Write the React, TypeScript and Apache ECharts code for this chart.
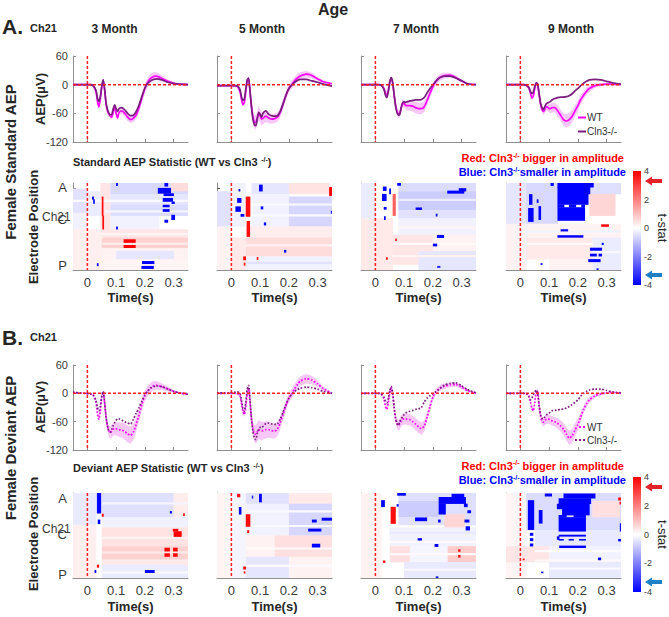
import { useEffect, useRef } from 'react';
import * as echarts from 'echarts';

// ---------- time base of the averaged channel-21 traces (s) ----------
const T = [-0.05, -0.01, 0.01, 0.02, 0.03, 0.035, 0.04, 0.045, 0.05, 0.055, 0.06, 0.065, 0.07, 0.075, 0.08, 0.085, 0.09, 0.095, 0.1, 0.105, 0.11, 0.12, 0.13, 0.14, 0.15, 0.16, 0.17, 0.18, 0.19, 0.2, 0.21, 0.22, 0.23, 0.24, 0.26, 0.28, 0.3, 0.32, 0.35];
const T_MIN = -0.05;
const T_MAX = 0.35;
const TIME_TICKS = [0, 0.1, 0.2, 0.3];
const MONTHS = ['3 Month', '5 Month', '7 Month', '9 Month'];

// ---------- Standard AEP, Ch21 (µV) ----------
const STD_WT_3M = [0, 0, 0, -2, -15, -35, -47, -30, -5, 10, -10, -40, -55, -62, -66, -68, -58, -45, -60, -70, -58, -55, -60, -68, -73, -70, -63, -47, -27, -8, 5, 13, 17, 18, 13, 7, 3, 1, 0];
const STD_KO_3M = [0, 0, 0, -2, -12, -28, -35, -25, -3, 10, -10, -38, -52, -60, -63, -62, -50, -42, -50, -56, -50, -48, -53, -60, -65, -64, -56, -42, -24, -7, 3, 8, 11, 12, 10, 5, 2, 1, 0];
const STD_BAND_3M = [1, 1, 1, 1, 2, 3, 3, 3, 3, 3, 3, 4, 4, 5, 5, 5, 5, 5, 6, 6, 6, 6, 7, 8, 8, 8, 9, 10, 10, 10, 10, 10, 9, 8, 6, 4, 3, 2, 2];

const STD_WT_5M = [-2, -2, -2, -3, -15, -30, -42, -38, -15, 8, 12, -15, -45, -68, -78, -79, -70, -60, -65, -72, -70, -66, -70, -72, -71, -68, -58, -40, -22, -8, 0, 8, 14, 18, 22, 19, 12, 6, 2];
const STD_KO_5M = [-2, -2, -2, -2, -10, -25, -33, -30, -10, 10, 14, -15, -48, -72, -84, -86, -72, -58, -62, -68, -60, -55, -62, -65, -66, -65, -56, -40, -22, -8, -1, 5, 9, 11, 11, 8, 5, 1, -3];
const STD_BAND_5M = [1, 1, 1, 2, 3, 4, 5, 5, 5, 5, 6, 8, 10, 12, 14, 15, 15, 15, 14, 14, 13, 12, 11, 10, 10, 10, 10, 10, 9, 8, 8, 8, 8, 8, 7, 6, 4, 3, 2];

const STD_WT_7M = [0, 0, 0, -1, -8, -18, -22, -12, 5, 14, 5, -20, -42, -56, -62, -60, -48, -38, -40, -43, -44, -44, -45, -48, -50, -50, -46, -33, -18, -4, 6, 13, 17, 19, 20, 15, 8, 2, 0];
const STD_KO_7M = [0, 0, 0, -1, -10, -22, -27, -15, 5, 15, 5, -20, -44, -58, -64, -62, -48, -38, -36, -37, -36, -34, -33, -32, -32, -31, -27, -17, -8, 0, 7, 13, 16, 18, 18, 14, 8, 2, 0];
const STD_BAND_7M = [1, 1, 1, 1, 2, 3, 4, 4, 4, 4, 4, 5, 6, 7, 8, 8, 8, 8, 8, 9, 10, 10, 11, 12, 12, 12, 11, 10, 9, 8, 7, 7, 7, 6, 5, 4, 3, 2, 1];

const STD_WT_9M = [0, 0, 0, -1, -8, -18, -28, -24, -8, 3, 0, -20, -40, -52, -56, -52, -46, -47, -50, -50, -48, -48, -55, -64, -73, -76, -73, -66, -55, -44, -31, -22, -14, -8, -2, 0, 1, 1, 0];
const STD_KO_9M = [0, 0, 0, -1, -6, -14, -19, -15, -4, 4, 2, -18, -38, -48, -52, -46, -40, -38, -37, -35, -32, -29, -27, -26, -26, -25, -23, -19, -13, -8, -2, 3, 7, 10, 11, 10, 7, 4, 1];
const STD_BAND_9M = [1, 1, 1, 1, 2, 3, 4, 4, 4, 4, 4, 5, 6, 7, 8, 8, 8, 8, 9, 10, 10, 10, 11, 12, 13, 14, 14, 13, 12, 11, 10, 9, 8, 7, 5, 3, 2, 2, 1];

// ---------- Deviant AEP, Ch21 (µV) ----------
const DEV_WT_3M = [2, 0, -1, -3, -20, -42, -55, -38, -8, 3, -20, -50, -70, -80, -83, -80, -76, -74, -75, -76, -77, -78, -81, -86, -89, -82, -65, -45, -22, -5, 5, 12, 16, 17, 14, 9, 4, 1, -2];
const DEV_KO_3M = [2, 0, -1, -3, -15, -30, -37, -28, -5, 4, -20, -50, -70, -80, -82, -76, -68, -62, -57, -54, -54, -57, -60, -63, -65, -55, -42, -30, -16, -3, 5, 11, 14, 16, 14, 9, 4, 1, -2];
const DEV_BAND_3M = [1, 1, 1, 1, 2, 4, 5, 5, 5, 5, 6, 8, 10, 12, 13, 14, 14, 14, 14, 15, 15, 16, 17, 18, 18, 17, 16, 14, 13, 12, 11, 10, 10, 9, 7, 5, 3, 2, 2];

const DEV_WT_5M = [0, 0, 0, 0, -5, -20, -38, -45, -30, 0, 10, -20, -55, -75, -85, -87, -82, -77, -78, -80, -79, -77, -77, -79, -80, -76, -62, -44, -25, -10, -1, 10, 19, 26, 31, 28, 20, 10, 0];
const DEV_KO_5M = [1, 1, 2, 3, 0, -15, -32, -38, -20, 8, 17, -15, -55, -80, -95, -98, -85, -76, -72, -73, -70, -64, -63, -65, -66, -65, -55, -40, -24, -10, -2, 4, 8, 11, 13, 12, 9, 4, 0];
const DEV_BAND_5M = [1, 1, 1, 2, 3, 4, 5, 6, 6, 6, 7, 9, 12, 15, 18, 20, 20, 20, 20, 20, 19, 18, 17, 16, 16, 15, 14, 12, 11, 10, 10, 10, 10, 10, 10, 9, 7, 4, 2];

const DEV_WT_7M = [0, 0, 0, -1, -12, -28, -34, -20, 0, 12, 0, -30, -52, -64, -68, -64, -58, -55, -54, -54, -55, -56, -60, -65, -71, -75, -69, -50, -28, -8, 3, 9, 13, 15, 18, 19, 13, 6, 0];
const DEV_KO_7M = [0, 0, 0, -1, -8, -16, -20, -10, 5, 14, 2, -28, -52, -64, -68, -60, -53, -50, -45, -42, -40, -38, -36, -34, -33, -30, -18, -10, -5, -1, 3, 8, 13, 17, 21, 22, 16, 8, 1];
const DEV_BAND_7M = [1, 1, 1, 1, 2, 4, 5, 5, 5, 5, 5, 6, 8, 10, 11, 12, 12, 12, 12, 12, 12, 12, 12, 13, 13, 13, 12, 10, 8, 7, 6, 6, 6, 6, 5, 5, 4, 3, 2];

const DEV_WT_9M = [0, 0, 0, 0, -5, -18, -32, -37, -20, 2, 5, -25, -48, -58, -61, -58, -55, -54, -55, -57, -58, -60, -64, -69, -76, -86, -95, -90, -78, -66, -50, -34, -22, -14, -5, -1, 1, 2, 0];
const DEV_KO_9M = [0, 0, 0, 0, -8, -14, -10, -3, 2, 7, 0, -25, -45, -53, -54, -50, -46, -44, -42, -39, -37, -36, -35, -34, -33, -31, -28, -24, -19, -14, -6, 0, 4, 7, 9, 9, 6, 3, 1];
const DEV_BAND_9M = [1, 1, 1, 1, 2, 4, 5, 6, 6, 6, 6, 7, 8, 9, 10, 10, 10, 10, 10, 10, 10, 10, 11, 12, 13, 14, 15, 15, 14, 12, 10, 8, 7, 6, 4, 3, 2, 2, 1];

// ---------- electrode x time t-stat maps: [t0, t1, row0, row1, t] ----------
// rows run 0 (anterior) .. 32 (posterior); faint washes first, significant clusters after
const STD_MAP_3M = [
  [-0.05, 0.0, 2, 11, -0.45], [-0.05, 0.0, 11, 17, -0.2], [-0.05, 0.05, 17, 32, 0.25], [0.0, 0.045, 3, 12, -0.3],
  [0.045, 0.08, 0, 17, 0.4], [0.08, 0.35, 0, 4, -0.6], [0.08, 0.35, 4, 8, -0.4], [0.08, 0.35, 8, 12, -0.55],
  [0.08, 0.25, 12, 17, -0.2], [0.05, 0.35, 17, 20, 0.4], [0.05, 0.35, 20, 24, 0.7], [0.05, 0.35, 24, 28, 0.2],
  [0.1, 0.3, 25, 28, -0.4], [0.05, 0.35, 28, 32, 0.15], [0.29, 0.35, 0, 3, 0.55],
  [-0.05, 0.35, 6.2, 6.9, -0.1], [0.06, 0.35, 10, 10.7, -0.15], [0.05, 0.35, 21.9, 22.7, 0.35], [0.05, 0.35, 18.4, 19.1, 0.15],
  [0.05, 0.055, 5, 12, 3.8], [0.052, 0.057, 12, 17, 3.8], [0.016, 0.022, 5, 6, -3.8], [0.02, 0.025, 6, 7.5, -3.8],
  [0.1, 0.105, 0, 1, -4], [0.1, 0.105, 16, 17, -4], [0.033, 0.038, 29.5, 30.5, -4],
  [0.126, 0.167, 20.7, 21.9, 4], [0.126, 0.167, 22.8, 23.8, 4],
  [0.19, 0.232, 28.7, 29.7, -4], [0.188, 0.23, 30.5, 31.5, -4],
  [0.245, 0.29, 1.8, 3.8, -4], [0.265, 0.3, 3.8, 4.7, -4], [0.262, 0.297, 5.5, 6.8, -4], [0.293, 0.303, 6.8, 7.6, -4],
  [0.262, 0.285, 8, 8.8, -4], [0.262, 0.285, 9.6, 10.5, -4], [0.268, 0.28, 13.5, 14.5, -4], [0.292, 0.304, 11.7, 13.5, -4],
  [0.268, 0.28, 0, 1.2, -4],
];
const STD_MAP_5M = [
  [-0.05, 0.0, 3, 16, -0.45], [-0.05, 0.0, 16, 32, 0.2], [0.0, 0.05, 0, 16, -0.2], [0.07, 0.2, 0, 4, -0.4],
  [0.2, 0.34, 0, 4, 0.45], [0.07, 0.2, 4, 16, -0.2], [0.2, 0.35, 5, 16, -0.65], [0.05, 0.35, 16, 20, 0.3],
  [0.05, 0.35, 20, 27, 0.55], [0.05, 0.35, 27, 32, -0.2], [0.0, 0.05, 20, 32, 0.35],
  [0.07, 0.35, 7.5, 8.2, -0.1], [0.07, 0.35, 11.5, 12.2, -0.1], [0.05, 0.35, 22.5, 23.2, 0.2], [0.05, 0.35, 29, 29.7, -0.45],
  [0.02, 0.034, 5.5, 7.2, -4], [0.014, 0.032, 8.6, 10.5, -4], [0.032, 0.044, 11.4, 12.3, -4], [0.025, 0.03, 2.2, 3, -4],
  [0.096, 0.108, 0.6, 3, -4], [0.102, 0.11, 8.6, 9.6, -4], [0.05, 0.065, 5, 12.3, 3.8], [0.053, 0.064, 14, 19.7, 3.8],
  [0.041, 0.05, 27, 28.3, 3.8], [0.088, 0.093, 27.2, 28.2, 3.5], [0.043, 0.048, 29.3, 30.3, 3.5],
  [0.113, 0.12, 14.5, 15.5, -4], [0.183, 0.19, 24.6, 25.5, -4], [0.34, 0.35, 1.5, 4.7, 4], [0.346, 0.35, 10.2, 11.2, -3.5],
];
const STD_MAP_7M = [
  [-0.05, 0.0, 0, 13, -0.3], [-0.05, 0.0, 13, 32, 0.35], [0.0, 0.06, 13, 32, 0.35], [0.08, 0.35, 0, 3, -0.55],
  [0.08, 0.35, 3, 10, -0.8], [0.08, 0.35, 10, 13, -0.45], [0.08, 0.35, 13, 19, -0.2], [0.06, 0.2, 19, 30, 0.4],
  [0.2, 0.35, 19, 25, 0.2], [0.15, 0.35, 25, 32, -0.4],
  [0.08, 0.35, 5.8, 6.5, -0.3], [0.08, 0.35, 16, 16.7, 0.15], [0.06, 0.35, 22, 22.7, 0.1], [0.06, 0.35, 26.5, 27.2, 0.2],
  [0.026, 0.038, 1.3, 2.8, -4], [0.023, 0.038, 4, 6.5, -4], [0.029, 0.038, 8.8, 9.7, -4], [0.03, 0.035, 12.2, 13.5, -4],
  [0.076, 0.088, 0, 0.9, -4], [0.048, 0.053, 2, 4, -4], [0.06, 0.07, 4, 12, 2.5], [0.14, 0.161, 9, 9.8, -4],
  [0.21, 0.215, 11.3, 12.2, -4], [0.25, 0.308, 2.8, 3.8, -4], [0.29, 0.315, 1.9, 3, -4], [0.214, 0.238, 19.1, 20.1, -4],
  [0.2, 0.214, 22.3, 23.2, -4], [0.069, 0.074, 20.4, 21.2, 3.5], [0.037, 0.042, 27.3, 28.1, 3.8], [0.215, 0.225, 30.5, 31.1, -3.5],
];
const STD_MAP_9M = [
  [-0.05, 0.02, 0, 15, -0.4], [-0.05, 0.02, 15, 32, 0.2], [0.02, 0.13, 0, 15, -0.6], [0.13, 0.35, 0, 4, -0.5],
  [0.24, 0.33, 4, 12, 0.65], [0.02, 0.35, 15, 20, 0.2], [0.02, 0.25, 20, 28, 0.35], [0.25, 0.35, 20, 32, -0.3],
  [0.1, 0.25, 28, 32, 0.2],
  [0.02, 0.35, 17.5, 18.2, -0.2], [0.02, 0.25, 22, 22.7, 0.1], [0.25, 0.35, 25, 25.7, -0.1],
  [0.129, 0.254, 0, 1.5, -4], [0.129, 0.242, 1.5, 4, -4], [0.129, 0.236, 4, 7.9, -4], [0.129, 0.152, 7.9, 8.9, -4],
  [0.169, 0.193, 7.9, 8.9, -4], [0.212, 0.224, 7.9, 8.9, -4], [0.129, 0.224, 8.9, 13.8, -4], [0.105, 0.115, 0, 1, -4],
  [0.03, 0.041, 4.1, 7.9, -4], [0.027, 0.045, 9.2, 14.2, -4], [0.063, 0.071, 8.5, 13.5, -4], [0.057, 0.062, 6, 7.2, -4],
  [0.129, 0.218, 19.2, 20, -4], [0.14, 0.165, 17, 17.7, -4], [0.242, 0.283, 23.8, 24.8, -4], [0.242, 0.265, 26, 26.9, -4],
  [0.272, 0.283, 26, 26.9, -4], [0.236, 0.278, 28, 29, -4], [0.283, 0.289, 22, 22.7, -4], [0.281, 0.307, 15.2, 16, 4],
  [0.07, 0.076, 29.5, 30, -4], [0.265, 0.271, 31.4, 32, -4],
];
const DEV_MAP_3M = [
  [-0.05, 0.03, 0, 12, -0.35], [-0.05, 0.03, 12, 32, 0.25], [0.05, 0.3, 0, 9, -0.5], [0.3, 0.35, 0, 9, 0.3],
  [0.05, 0.35, 9, 13, -0.2], [0.05, 0.35, 13, 20, 0.45], [0.05, 0.35, 20, 25, 0.7], [0.05, 0.35, 25, 27, 0.35],
  [0.05, 0.35, 27, 32, -0.3],
  [0.05, 0.35, 3.5, 4.2, -0.15], [0.05, 0.35, 16.5, 17.2, 0.2], [0.05, 0.35, 21.9, 22.7, 0.35], [0.05, 0.35, 29.5, 30.2, -0.1],
  [0.033, 0.047, 0, 7.6, -4], [0.036, 0.044, 10, 11.6, -4], [0.05, 0.056, 7.8, 8.8, 3.8], [0.287, 0.293, 6.8, 7.6, -4],
  [0.333, 0.338, 7.6, 8.5, 3.5], [0.3, 0.327, 14.4, 16.4, 4], [0.297, 0.315, 13.5, 14.4, 4], [0.268, 0.286, 20.6, 21.9, 4],
  [0.268, 0.286, 22.7, 23.9, 4], [0.298, 0.313, 20.6, 21.9, 4], [0.298, 0.313, 22.7, 23.9, 4], [0.033, 0.04, 27, 28, 3.8],
  [0.025, 0.03, 29, 30, -4], [0.2, 0.233, 29, 30, -4],
];
const DEV_MAP_5M = [
  [-0.05, 0.0, 0, 32, 0.15], [0.0, 0.05, 0, 32, -0.15], [0.05, 0.2, 0, 4, -0.45], [0.2, 0.35, 0, 4, 0.35],
  [0.05, 0.2, 4, 16, -0.2], [0.2, 0.35, 4, 16, -0.65], [0.05, 0.15, 16, 24, 0.2], [0.15, 0.35, 16, 24, 0.5],
  [0.05, 0.2, 24, 32, -0.4], [0.2, 0.35, 24, 32, 0.2],
  [0.05, 0.35, 6.5, 7.2, -0.1], [0.05, 0.35, 12, 12.7, -0.1], [0.05, 0.35, 20.5, 21.2, 0.1], [0.05, 0.35, 27, 27.7, -0.1],
  [0.02, 0.03, 0.3, 1.5, 3.8], [0.026, 0.034, 5.3, 8, -4], [0.05, 0.065, 8, 12.6, 3.8], [0.055, 0.061, 14, 15, 3.8],
  [0.096, 0.105, 0.3, 3.4, -4], [0.071, 0.075, 1, 2, -3.5], [0.041, 0.05, 27.7, 28.7, 3.8], [0.043, 0.048, 29.5, 30.2, 3.8],
  [0.314, 0.35, 9.3, 10.3, -4], [0.28, 0.296, 10, 11, -4], [0.267, 0.312, 13.4, 14.4, -4], [0.28, 0.308, 19.1, 20.4, -4],
];
const DEV_MAP_7M = [
  [-0.05, 0.02, 0, 32, 0.2], [0.08, 0.35, 0, 3, -0.5], [0.08, 0.22, 3, 9, -0.8], [0.22, 0.35, 3, 9, -0.5],
  [0.08, 0.35, 9, 12, -0.45], [0.24, 0.31, 8, 13, 0.65], [0.05, 0.35, 13, 20, -0.2], [0.05, 0.12, 20, 26, 0.5],
  [0.25, 0.35, 20, 26, 0.8], [0.12, 0.25, 20, 26, -0.15], [0.1, 0.35, 26, 32, -0.35],
  [0.05, 0.35, 14.5, 15.2, -0.35], [0.05, 0.35, 18, 18.7, 0.1], [0.05, 0.35, 22.6, 23.3, 0.1], [0.1, 0.35, 28.5, 29.2, -0.1],
  [0.076, 0.105, 0, 0.9, -4], [0.02, 0.032, 2.7, 5.2, -4], [0.053, 0.07, 5.2, 11.5, 3.8], [0.074, 0.08, 4.2, 5, -4],
  [0.22, 0.314, 1.5, 4, -4], [0.265, 0.308, 0.3, 1.5, -4], [0.22, 0.244, 4, 8, -4], [0.308, 0.32, 4, 5.2, -4],
  [0.32, 0.332, 6.5, 7.5, -4], [0.138, 0.179, 9.2, 10.5, -4], [0.218, 0.226, 10, 11, -4], [0.31, 0.326, 10, 11, -4],
  [0.314, 0.328, 12.5, 14, -4], [0.147, 0.161, 17, 17.8, -4], [0.206, 0.218, 19.2, 20.2, -4], [0.288, 0.295, 21.2, 22, 4],
  [0.288, 0.295, 23.3, 24.2, 4], [0.026, 0.034, 25.4, 26.2, 3.8], [0.21, 0.218, 31.4, 32, -4],
];
const DEV_MAP_9M = [
  [-0.05, 0.02, 0, 32, 0.15], [0.02, 0.35, 0, 14, -0.55], [0.25, 0.345, 3, 9, 0.5], [0.05, 0.35, 14, 20, -0.35],
  [-0.05, 0.1, 20, 26, 0.4], [0.1, 0.35, 20, 26, -0.2], [0.1, 0.35, 26, 32, -0.35],
  [0.05, 0.35, 21.5, 22.2, -0.05], [0.05, 0.35, 25, 25.7, 0.1], [0.1, 0.35, 28, 28.7, -0.1],
  [0.026, 0.047, 2.7, 13.8, -4], [0.033, 0.044, 15, 16, -4], [0.033, 0.044, 17, 18, -4], [0.033, 0.044, 19, 20, -4],
  [0.064, 0.076, 6.4, 11.4, -4], [0.085, 0.109, 0.2, 1.2, -4], [0.15, 0.26, 0.2, 2, -4], [0.133, 0.245, 2, 4, -4],
  [0.127, 0.24, 4, 6, -4], [0.145, 0.24, 6, 8.3, -4], [0.133, 0.16, 8.3, 9.1, -4], [0.185, 0.227, 8.3, 9.1, -4],
  [0.133, 0.227, 9.1, 14.4, -4], [0.133, 0.227, 15.7, 16.3, -4], [0.133, 0.15, 17.3, 17.8, -4], [0.168, 0.185, 17.3, 17.8, -4],
  [0.204, 0.227, 17.3, 17.8, -4], [0.135, 0.227, 19.8, 20.6, -4], [0.127, 0.135, 16.3, 17.5, -4], [0.346, 0.35, 11.4, 14.4, -4],
  [0.34, 0.35, 17.3, 18.1, -4], [0.34, 0.35, 1.7, 2.7, 3.8], [0.345, 0.35, 3.3, 4.2, 3.8], [0.27, 0.28, 24.3, 25.2, -4],
  [0.072, 0.079, 29.6, 30.1, -4], [0.008, 0.014, 24.7, 25.2, 3.8],
];

const N_ROWS = 32;
const ELECTRODE_LABELS = ['A', 'C', 'P'];
const STD_ELECTRODE_ROWS = [1.8, 13.5, 30.5];
const DEV_ELECTRODE_ROWS = [1.9, 15.5, 30.6];
const TSTAT_MIN = -4;
const TSTAT_MAX = 4;
const ARROW_LEVELS = [3.3, -3.3];

// ---------- layout & styling ----------
const FONT = '"Liberation Sans", Arial, Helvetica, sans-serif';
const COL_LEFT = [73, 217, 361, 506];
const COL_W = 115;
const LINE_TOP = [56, 365];
const LINE_H = [86, 85];
const MAP_TOP = [183, 493];
const MAP_H = [87, 85];
const CBAR_LEFT = 633;
const CBAR_TOP = [171, 477];
const CBAR_H = [114, 115];
const WT_COLOR = '#FF00FF';
const KO_COLOR = '#7B1E7E';
const BAND_COLOR = '#F7C8F7';
const DASH_RED = '#FF1F1F';
const AXIS_GRAY = '#8f8f8f';
const TEXT_DARK = '#262626';
const ARROW_COLORS = ['#E3222A', '#1F80C6'];

const ROWS = [
  {
    dotted: false,
    electrodeRows: STD_ELECTRODE_ROWS,
    panels: [
      { wt: STD_WT_3M, ko: STD_KO_3M, band: STD_BAND_3M, map: STD_MAP_3M },
      { wt: STD_WT_5M, ko: STD_KO_5M, band: STD_BAND_5M, map: STD_MAP_5M },
      { wt: STD_WT_7M, ko: STD_KO_7M, band: STD_BAND_7M, map: STD_MAP_7M },
      { wt: STD_WT_9M, ko: STD_KO_9M, band: STD_BAND_9M, map: STD_MAP_9M },
    ],
  },
  {
    dotted: true,
    electrodeRows: DEV_ELECTRODE_ROWS,
    panels: [
      { wt: DEV_WT_3M, ko: DEV_KO_3M, band: DEV_BAND_3M, map: DEV_MAP_3M },
      { wt: DEV_WT_5M, ko: DEV_KO_5M, band: DEV_BAND_5M, map: DEV_MAP_5M },
      { wt: DEV_WT_7M, ko: DEV_KO_7M, band: DEV_BAND_7M, map: DEV_MAP_7M },
      { wt: DEV_WT_9M, ko: DEV_KO_9M, band: DEV_BAND_9M, map: DEV_MAP_9M },
    ],
  },
];

const dash = () => ({ stroke: DASH_RED, fill: 'none', lineWidth: 1.5, lineDash: [3, 2] });

// shaded spread around the WT mean, as one polygon in data coordinates
const makeBandRenderer = (mean: number[], half: number[]) => (_params: any, api: any) => {
  const upper = T.map((t, i) => api.coord([t, mean[i] + half[i]]));
  const lower = T.map((t, i) => api.coord([t, mean[i] - half[i]])).reverse();
  return { type: 'polygon', shape: { points: upper.concat(lower) }, style: { fill: BAND_COLOR } };
};

// stimulus onset (t = 0) and the 0 µV baseline
const renderGuides = (params: any, api: any) => {
  const cs = params.coordSys;
  const p = api.coord([api.value(0), api.value(1)]);
  return {
    type: 'group',
    children: [
      { type: 'line', shape: { x1: cs.x, y1: p[1], x2: cs.x + cs.width, y2: p[1] }, style: dash() },
      { type: 'line', shape: { x1: p[0], y1: cs.y, x2: p[0], y2: cs.y + cs.height }, style: dash() },
    ],
  };
};

const renderOnset = (params: any, api: any) => {
  const cs = params.coordSys;
  const x = api.coord([api.value(0), 0])[0];
  return { type: 'line', shape: { x1: x, y1: cs.y, x2: x, y2: cs.y + cs.height }, style: dash() };
};

const renderPatch = (params: any, api: any) => {
  const a = api.coord([api.value(0), api.value(2)]);
  const b = api.coord([api.value(1), api.value(3)]);
  const cs = params.coordSys;
  const shape = echarts.graphic.clipRectByRect(
    {
      x: Math.min(a[0], b[0]),
      y: Math.min(a[1], b[1]),
      width: Math.abs(b[0] - a[0]) + 0.3,
      height: Math.abs(b[1] - a[1]) + 0.3,
    },
    { x: cs.x, y: cs.y, width: cs.width, height: cs.height }
  );
  if (!shape) return null;
  return { type: 'rect', shape, style: { fill: api.visual('color') } };
};

const renderColorbar = (_params: any, api: any) => {
  const a = api.coord([api.value(0), api.value(3)]);
  const b = api.coord([api.value(1), api.value(2)]);
  return {
    type: 'rect',
    shape: { x: a[0], y: a[1], width: b[0] - a[0], height: b[1] - a[1] },
    style: {
      fill: new echarts.graphic.LinearGradient(0, 0, 0, 1, [
        { offset: 0, color: '#FF0000' },
        { offset: 0.5, color: '#FFFFFF' },
        { offset: 1, color: '#0000FF' },
      ]),
    },
  };
};

const renderArrow = (params: any, api: any) => {
  const p = api.coord([api.value(0), api.value(1)]);
  const x = p[0] + 4;
  const y = p[1];
  return {
    type: 'polygon',
    shape: {
      points: [
        [x, y], [x + 7, y - 4.5], [x + 7, y - 2], [x + 17, y - 2],
        [x + 17, y + 2], [x + 7, y + 2], [x + 7, y + 4.5],
      ],
    },
    style: { fill: ARROW_COLORS[params.dataIndex] },
  };
};

function buildOption() {
  const grid: any[] = [];
  const xAxis: any[] = [];
  const yAxis: any[] = [];
  const series: any[] = [];
  const heatSeries: number[] = [];
  const graphic: any[] = [];

  const txt = (text: string, x: number, y: number, o: any = {}) => ({
    type: 'text',
    x,
    y,
    rotation: o.rotation || 0,
    silent: true,
    style: {
      text,
      fontFamily: FONT,
      fontSize: o.size || 12,
      fontWeight: o.weight || 'normal',
      fill: o.color || TEXT_DARK,
      align: o.align || 'center',
      verticalAlign: 'middle',
    },
  });

  ROWS.forEach((row, r) => {
    row.panels.forEach((p, c) => {
      // ---- averaged trace panel ----
      const gi = grid.length;
      grid.push({ left: COL_LEFT[c], top: LINE_TOP[r], width: COL_W, height: LINE_H[r], outerBoundsMode: 'none' });
      xAxis.push({
        gridIndex: gi, type: 'value', min: T_MIN, max: T_MAX,
        axisLine: { show: true, onZero: false, lineStyle: { color: AXIS_GRAY } },
        axisTick: { show: true, inside: true, length: 3, customValues: TIME_TICKS, lineStyle: { color: AXIS_GRAY } },
        axisLabel: { show: false },
        splitLine: { show: false },
      });
      yAxis.push({
        gridIndex: gi, type: 'value', min: -120, max: 60, interval: 60,
        axisLine: { show: true, onZero: false, lineStyle: { color: AXIS_GRAY } },
        axisTick: { show: true, inside: true, length: 3, lineStyle: { color: AXIS_GRAY } },
        axisLabel: { show: c === 0, fontSize: 11, color: '#3a3a3a', margin: 5, fontFamily: FONT },
        splitLine: { show: false },
      });
      series.push({
        type: 'custom', xAxisIndex: gi, yAxisIndex: gi, renderItem: makeBandRenderer(p.wt, p.band),
        data: [[0, 0]], encode: { x: 0, y: 1 }, silent: true, z: 1,
      });
      const lineType = row.dotted ? 'dotted' : 'solid';
      series.push({
        type: 'line', xAxisIndex: gi, yAxisIndex: gi, smooth: 0.2,
        data: T.map((t, i) => [t, p.wt[i]]),
        symbol: 'none', lineStyle: { color: WT_COLOR, width: 1.7, type: lineType }, itemStyle: { color: WT_COLOR },
        silent: true, z: 3,
      });
      series.push({
        type: 'line', xAxisIndex: gi, yAxisIndex: gi, smooth: 0.2,
        data: T.map((t, i) => [t, p.ko[i]]),
        symbol: 'none', lineStyle: { color: KO_COLOR, width: 1.7, type: lineType }, itemStyle: { color: KO_COLOR },
        silent: true, z: 4,
      });
      series.push({
        type: 'custom', xAxisIndex: gi, yAxisIndex: gi, renderItem: renderGuides,
        data: [[0, 0]], encode: { x: 0, y: 1 }, silent: true, z: 6,
      });

      // ---- t-stat map panel ----
      const hi = grid.length;
      grid.push({ left: COL_LEFT[c], top: MAP_TOP[r], width: COL_W, height: MAP_H[r], outerBoundsMode: 'none' });
      xAxis.push({
        gridIndex: hi, type: 'value', min: T_MIN, max: T_MAX,
        axisLine: { show: true, onZero: false, lineStyle: { color: AXIS_GRAY } },
        axisTick: { show: false },
        axisLabel: { customValues: TIME_TICKS, fontSize: 13, color: '#3a3a3a', margin: 6, fontFamily: FONT },
        splitLine: { show: false },
      });
      const rowsAt = row.electrodeRows;
      yAxis.push({
        gridIndex: hi, type: 'value', min: 0, max: N_ROWS, inverse: true,
        axisLine: { show: true, onZero: false, lineStyle: { color: AXIS_GRAY } },
        axisTick: { show: true, inside: true, length: 3, customValues: rowsAt, lineStyle: { color: '#555' } },
        axisLabel: {
          show: c === 0, customValues: rowsAt, fontSize: 13, color: '#3a3a3a', margin: 6, fontFamily: FONT,
          formatter: (v: number) => {
            const k = rowsAt.findIndex((x) => Math.abs(x - v) < 1e-6);
            return k >= 0 ? ELECTRODE_LABELS[k] : '';
          },
        },
        splitLine: { show: false },
      });
      heatSeries.push(series.length);
      series.push({
        type: 'custom', xAxisIndex: hi, yAxisIndex: hi, renderItem: renderPatch,
        data: p.map, encode: { x: [0, 1], y: [2, 3] }, silent: true, z: 1,
      });
      series.push({
        type: 'custom', xAxisIndex: hi, yAxisIndex: hi, renderItem: renderOnset,
        data: [[0, 0]], encode: { x: 0, y: 1 }, silent: true, z: 6,
      });

      graphic.push(txt('Time(s)', COL_LEFT[c] + COL_W / 2, r === 0 ? 297 : 606, { size: 13, weight: 'bold' }));
    });

    // ---- colour bar with criterion arrows ----
    const ci = grid.length;
    grid.push({ left: CBAR_LEFT, top: CBAR_TOP[r], width: 8, height: CBAR_H[r], outerBoundsMode: 'none' });
    xAxis.push({ gridIndex: ci, type: 'value', min: 0, max: 1, show: false });
    yAxis.push({
      gridIndex: ci, type: 'value', min: TSTAT_MIN, max: TSTAT_MAX, interval: 2, position: 'right',
      axisLine: { show: false }, axisTick: { show: false }, splitLine: { show: false },
      axisLabel: { fontSize: 9, color: '#3a3a3a', margin: 3, fontFamily: FONT },
      name: 't-stat', nameLocation: 'middle', nameRotate: -90, nameGap: 15,
      nameTextStyle: { fontSize: 13, color: TEXT_DARK, fontFamily: FONT },
    });
    series.push({
      type: 'custom', xAxisIndex: ci, yAxisIndex: ci, renderItem: renderColorbar,
      data: [[0, 1, TSTAT_MIN, TSTAT_MAX]], encode: { x: [0, 1], y: [2, 3] }, silent: true,
    });
    series.push({
      type: 'custom', xAxisIndex: ci, yAxisIndex: ci, renderItem: renderArrow,
      data: ARROW_LEVELS.map((v) => [1, v]), encode: { x: 0, y: 1 }, silent: true,
    });
  });

  // ---- headings and annotations ----
  graphic.push(txt('Age', 333, 9, { size: 16, weight: 'bold' }));
  graphic.push(txt('A.', 2, 26, { size: 21, weight: 'bold', align: 'left' }));
  graphic.push(txt('Ch21', 30, 28, { size: 11, weight: 'bold', align: 'left' }));
  graphic.push(txt('B.', 2, 337, { size: 21, weight: 'bold', align: 'left' }));
  graphic.push(txt('Ch21', 30, 337, { size: 11, weight: 'bold', align: 'left' }));
  const monthX = [114.5, 262, 416, 571];
  MONTHS.forEach((m, i) => graphic.push(txt(m, monthX[i], 29, { size: 12, weight: 'bold' })));

  const rot = Math.PI / 2;
  graphic.push(txt('AEP(μV)', 40, 99, { size: 13, weight: 'bold', rotation: rot }));
  graphic.push(txt('AEP(μV)', 40, 407, { size: 13, weight: 'bold', rotation: rot }));
  graphic.push(txt('Female Standard AEP', 10, 162, { size: 15, weight: 'bold', rotation: rot }));
  graphic.push(txt('Female Deviant AEP', 10, 448, { size: 15, weight: 'bold', rotation: rot }));
  graphic.push(txt('Electrode Position', 33, 227, { size: 13, weight: 'bold', rotation: rot }));
  graphic.push(txt('Electrode Position', 33, 534, { size: 13, weight: 'bold', rotation: rot }));
  graphic.push(txt('Ch21', 42, 217, { size: 12, align: 'left', color: '#3a3a3a' }));
  graphic.push(txt('Ch21', 42, 529, { size: 12, align: 'left', color: '#3a3a3a' }));

  const rich = (text: string, x: number, y: number, color: string, align: string) => ({
    type: 'text', x, y, silent: true,
    style: {
      text, align, verticalAlign: 'middle',
      rich: {
        m: { fontFamily: FONT, fontSize: 11, fontWeight: 'bold', fill: color, lineHeight: 13 },
        s: { fontFamily: FONT, fontSize: 7, fontWeight: 'bold', fill: color, lineHeight: 8, verticalAlign: 'top' },
      },
    },
  });
  graphic.push(rich('{m|Standard AEP Statistic (WT vs Cln3 }{s|-/-}{m|)}', 73, 162, TEXT_DARK, 'left'));
  graphic.push(rich('{m|Deviant AEP Statistic (WT vs Cln3 }{s|-/-}{m|)}', 73, 468, TEXT_DARK, 'left'));
  [[158, 172], [465.5, 480]].forEach(([yr, yb]) => {
    graphic.push(rich('{m|Red: Cln3}{s|-/-}{m| bigger in amplitude}', 624, yr, '#FF0000', 'right'));
    graphic.push(rich('{m|Blue: Cln3}{s|-/-}{m|smaller in amplitude}', 626, yb, '#0000FF', 'right'));
  });

  // trace legends in the 9-month panels
  const legendRows = [
    { y: [117.5, 131.5], x0: 578, dash: null },
    { y: [427, 440], x0: 575, dash: [2, 2] },
  ];
  legendRows.forEach((lg) => {
    [WT_COLOR, KO_COLOR].forEach((col, k) => {
      graphic.push({
        type: 'line', silent: true,
        shape: { x1: lg.x0, y1: lg.y[k], x2: 586, y2: lg.y[k] },
        style: { stroke: col, lineWidth: 2, lineDash: lg.dash },
      });
      graphic.push(txt(k === 0 ? 'WT' : 'Cln3-/-', 587, lg.y[k], { size: 10, align: 'left', color: '#333' }));
    });
  });

  return {
    animation: false,
    backgroundColor: '#ffffff',
    textStyle: { fontFamily: FONT },
    grid,
    xAxis,
    yAxis,
    visualMap: {
      type: 'continuous', show: false, min: TSTAT_MIN, max: TSTAT_MAX, dimension: 4,
      seriesIndex: heatSeries, inRange: { color: ['#0000FF', '#FFFFFF', '#FF0000'] },
    },
    series,
    graphic,
  };
}

export default function App() {
  const ref = useRef<HTMLDivElement | null>(null);
  useEffect(() => {
    if (!ref.current) return;
    const chart = echarts.init(ref.current, null, { renderer: 'svg' });
    chart.setOption(buildOption() as any);
    return () => chart.dispose();
  }, []);
  return (
    <div
      ref={ref}
      style={{ position: 'fixed', left: 0, top: 0, width: 669, height: 617, background: '#fff' }}
    />
  );
}
